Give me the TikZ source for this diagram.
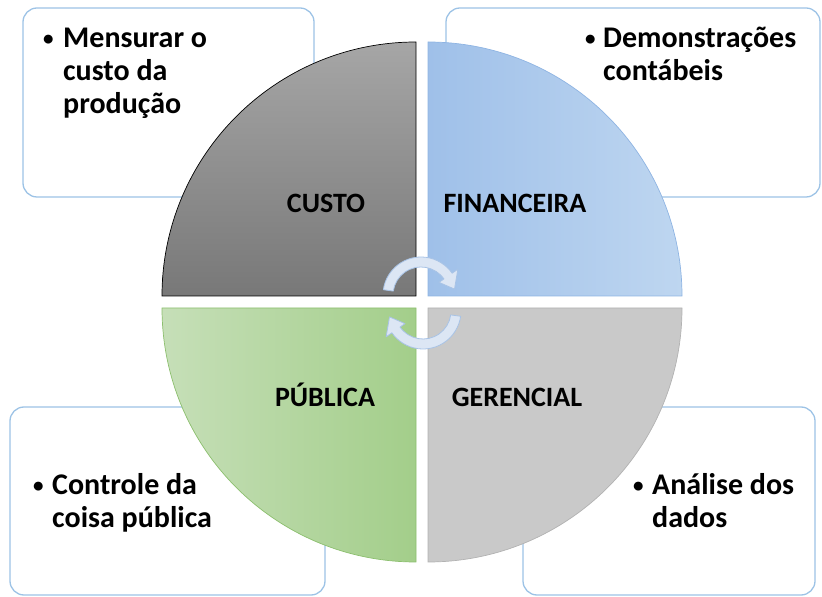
\documentclass[tikz,border=0pt]{standalone}
\usepackage{fontspec}
\setmainfont{Carlito}
\definecolor{borda}{HTML}{9DC3E6}
\definecolor{custoA}{HTML}{A6A6A6}
\definecolor{custoB}{HTML}{787878}
\definecolor{finA}{HTML}{9FC0E9}
\definecolor{finB}{HTML}{BED6F0}
\definecolor{finBorda}{HTML}{8EB4E3}
\definecolor{pubA}{HTML}{C6DFB8}
\definecolor{pubB}{HTML}{A3CE8A}
\definecolor{pubBorda}{HTML}{8CBF6E}
\definecolor{gerA}{HTML}{C9C9C9}
\definecolor{gerBorda}{HTML}{B2B2B2}
\definecolor{setaFundo}{HTML}{DCE6F4}
\definecolor{setaBorda}{HTML}{A8C3E6}
\newcommand{\marca}{\raisebox{2.5pt}{\fontsize{21}{21}\selectfont\textbullet}}
\begin{document}
\begin{tikzpicture}[x=1pt,y=1pt,
  caixa/.style={draw=borda,line width=1.3pt,rounded corners=14pt,fill=white},
  texto/.style={font=\fontsize{30}{33}\selectfont\bfseries,anchor=base west,inner sep=0pt},
  rotulo/.style={font=\fontsize{28}{30}\selectfont\bfseries,anchor=base,inner sep=0pt},
  seta/.style={draw=setaBorda,fill=setaFundo,line width=0.8pt,line join=round}]
\useasboundingbox (0,0) rectangle (822,597);

% caixas
\draw[caixa] (23,400) rectangle (314,589);
\draw[caixa] (446,400) rectangle (820,589);
\draw[caixa] (10,2) rectangle (325,190);
\draw[caixa] (523,2) rectangle (815,190);

\node[texto] (tCusto) at (43,549)
  {\begin{tabular}[t]{@{}p{20pt}@{}l@{}}\marca & Mensurar o\\ & custo da\\ & produção\end{tabular}};
\node[texto] (tFin) at (585,549)
  {\begin{tabular}[t]{@{}p{18pt}@{}l@{}}\marca & Demonstrações\\ & contábeis\end{tabular}};
\node[texto] (tPub) at (33,102)
  {\begin{tabular}[t]{@{}p{19pt}@{}l@{}}\marca & Controle da\\ & coisa pública\end{tabular}};
\node[texto] (tGer) at (633,102)
  {\begin{tabular}[t]{@{}p{19pt}@{}l@{}}\marca & Análise dos\\ & dados\end{tabular}};

% quadrantes
\shade[top color=custoA,bottom color=custoB,draw=black,line width=0.7pt]
  (416,301) -- (162,301) arc[start angle=180,end angle=90,radius=254] -- cycle;
\shade[left color=finA,right color=finB,draw=finBorda,line width=0.7pt]
  (428,301) -- (428,555) arc[start angle=90,end angle=0,radius=254] -- cycle;
\shade[left color=pubA,right color=pubB,draw=pubBorda,line width=0.7pt]
  (416,289) -- (162,289) arc[start angle=180,end angle=270,radius=254] -- cycle;
\filldraw[fill=gerA,draw=gerBorda,line width=0.7pt]
  (428,289) -- (682,289) arc[start angle=0,end angle=-90,radius=254] -- cycle;

\node[rotulo] (custo) at (326,384) {CUSTO};
\node[rotulo] (fin) at (515,384) {FINANCEIRA};
\node[rotulo] (pub) at (325,190) {PÚBLICA};
\node[rotulo] (ger) at (517,190) {GERENCIAL};

% setas circulares
\draw[seta] ([shift={(172:38)}]421,302) arc[start angle=172,end angle=35,radius=38]
  -- ([shift={(35:45)}]421,302) -- ([shift={(10:34)}]421,302)
  -- ([shift={(35:22)}]421,302) -- ([shift={(35:28)}]421,302)
  arc[start angle=35,end angle=172,radius=28] -- cycle;
\draw[seta] ([shift={(-8:38)}]423,286) arc[start angle=-8,end angle=-145,radius=38]
  -- ([shift={(-145:45)}]423,286) -- ([shift={(-170:34)}]423,286)
  -- ([shift={(-145:22)}]423,286) -- ([shift={(-145:28)}]423,286)
  arc[start angle=-145,end angle=-8,radius=28] -- cycle;
\end{tikzpicture}
\end{document}
